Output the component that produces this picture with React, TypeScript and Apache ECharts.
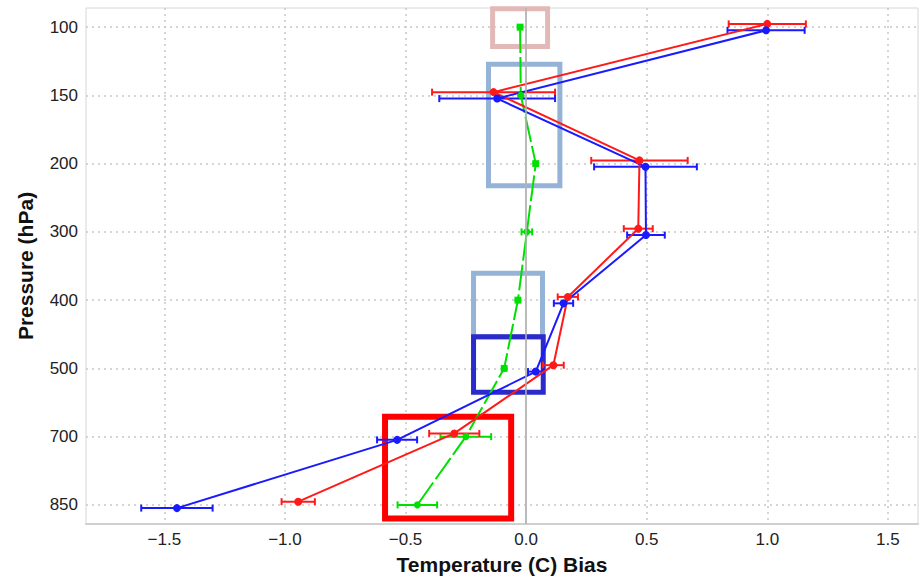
import React, { useEffect, useRef } from "react";
import * as echarts from "echarts";

const levels = [100, 150, 200, 300, 400, 500, 700, 850];
const xTicks = [-1.5, -1.0, -0.5, 0.0, 0.5, 1.0, 1.5];

const redBias = [1.0, -0.135, 0.47, 0.465, 0.173, 0.113, -0.298, -0.945];
const redErr = [0.16, 0.255, 0.2, 0.06, 0.042, 0.043, 0.104, 0.069];

const blueBias = [0.995, -0.12, 0.495, 0.497, 0.155, 0.04, -0.535, -1.448];
const blueErr = [0.16, 0.24, 0.213, 0.078, 0.04, 0.032, 0.083, 0.148];

const greenBias = [-0.025, -0.022, 0.04, 0.003, -0.034, -0.091, -0.25, -0.451];
const greenErr = [0.01, 0.01, 0.01, 0.022, 0.01, 0.01, 0.105, 0.082];

// highlight boxes: [xMin, yMinIndex, xMax, yMaxIndex, color, width]
const boxes: [number, number, number, number, string, number][] = [
  [-0.139, -0.27, 0.089, 0.285, "#e3b9b8", 5],
  [-0.156, 0.545, 0.14, 2.325, "#95b3d7", 5],
  [-0.218, 3.605, 0.068, 4.54, "#95b3d7", 5],
  [-0.218, 4.536, 0.071, 5.351, "#2b2bcc", 5],
  [-0.585, 5.71, -0.062, 7.2, "#ff0000", 6],
];

const fmtMinus = (s: string) => s.replace("-", "\u2212");

function lineSeries(name: string, bias: number[], color: string, off: number, dashed: boolean, size: number) {
  return {
    name,
    type: "line",
    data: bias.map((b, i) => [b, i + off]),
    symbol: "circle",
    symbolSize: size,
    itemStyle: { color },
    lineStyle: { color, width: 2, type: dashed ? [26, 4] : "solid" },
    z: 3,
  };
}

function errSeries(name: string, bias: number[], err: number[], color: string, off: number) {
  return {
    name: name + "err",
    type: "custom",
    data: bias.map((b, i) => [b - err[i], i + off, b + err[i]]),
    renderItem: (params: any, api: any) => {
      const lo = api.coord([api.value(0), api.value(1)]);
      const hi = api.coord([api.value(2), api.value(1)]);
      const h = 3.5;
      const st = { stroke: color, lineWidth: 2 };
      return {
        type: "group",
        children: [
          { type: "line", shape: { x1: lo[0], y1: lo[1], x2: hi[0], y2: hi[1] }, style: st },
          { type: "line", shape: { x1: lo[0], y1: lo[1] - h, x2: lo[0], y2: lo[1] + h }, style: st },
          { type: "line", shape: { x1: hi[0], y1: hi[1] - h, x2: hi[0], y2: hi[1] + h }, style: st },
        ],
      };
    },
    z: 3,
  };
}

export default function App() {
  const ref = useRef<HTMLDivElement>(null);
  useEffect(() => {
    if (!ref.current) return;
    const chart = echarts.init(ref.current, undefined, { renderer: "svg" });
    const idx = levels.map((_, i) => i);
    const option: any = {
      animation: false,
      backgroundColor: "#ffffff",
      grid: {
        left: 86,
        top: 8,
        right: 2,
        bottom: 54,
        outerBoundsMode: "none",
        containLabel: false,
        show: true,
        borderColor: "#d6d6d6",
        borderWidth: 1,
        backgroundColor: "#ffffff",
      },
      xAxis: {
        type: "value",
        min: -1.825,
        max: 1.625,
        name: "Temperature (C) Bias",
        nameLocation: "middle",
        nameGap: 30,
        nameTextStyle: { fontFamily: "Liberation Sans", fontSize: 21, fontWeight: "bold", color: "#111" },
        axisLine: { show: true, onZero: false, lineStyle: { color: "#cfcfcf", width: 2 } },
        axisTick: { show: false, customValues: xTicks },
        axisLabel: {
          customValues: xTicks,
          fontFamily: "Liberation Sans",
          fontSize: 17,
          color: "#222",
          margin: 7,
          formatter: (v: number) => fmtMinus(v.toFixed(1)),
        },
        splitLine: { show: true, lineStyle: { color: "#c8c8c8", width: 1.5, type: [2, 4] } },
      },
      yAxis: {
        type: "value",
        inverse: true,
        min: -0.28,
        max: 7.28,
        name: "Pressure (hPa)",
        nameLocation: "middle",
        nameGap: 50,
        nameTextStyle: { fontFamily: "Liberation Sans", fontSize: 21, fontWeight: "bold", color: "#111" },
        axisLine: { show: true, lineStyle: { color: "#cfcfcf", width: 2 } },
        axisTick: { show: false, customValues: idx },
        axisLabel: {
          customValues: idx,
          fontFamily: "Liberation Sans",
          fontSize: 17,
          color: "#222",
          margin: 8,
          formatter: (v: number) => String(levels[Math.round(v)]),
        },
        splitLine: { show: true, lineStyle: { color: "#c8c8c8", width: 1.5, type: [2, 4] } },
      },
      series: [
        {
          name: "zero",
          type: "line",
          data: [],
          silent: true,
          markLine: {
            silent: true,
            symbol: "none",
            label: { show: false },
            lineStyle: { color: "#b3b3b3", width: 1.5, type: "solid" },
            data: [{ xAxis: 0 }],
          },
          z: 1,
        },
        errSeries("green", greenBias, greenErr, "#00e000", 0),
        lineSeries("green", greenBias, "#00e000", 0, true, 7),
        errSeries("red", redBias, redErr, "#ff1a1a", -0.047),
        lineSeries("red", redBias, "#ff1a1a", -0.047, false, 8),
        errSeries("blue", blueBias, blueErr, "#1a1aff", 0.047),
        lineSeries("blue", blueBias, "#1a1aff", 0.047, false, 8),
        {
          name: "boxes",
          type: "line",
          data: [],
          silent: true,
          z: 10,
          markArea: {
            silent: true,
            label: { show: false },
            data: boxes.map((b) => [
              {
                coord: [b[0], b[1]],
                itemStyle: { color: "rgba(0,0,0,0)", borderColor: b[4], borderWidth: b[5], borderRadius: 3 },
              },
              { coord: [b[2], b[3]] },
            ]),
          },
        },
      ],
    };
    chart.setOption(option);
    return () => chart.dispose();
  }, []);
  return (
    <div
      ref={ref}
      style={{ position: "absolute", left: 0, top: 0, width: 920, height: 578 }}
    />
  );
}
